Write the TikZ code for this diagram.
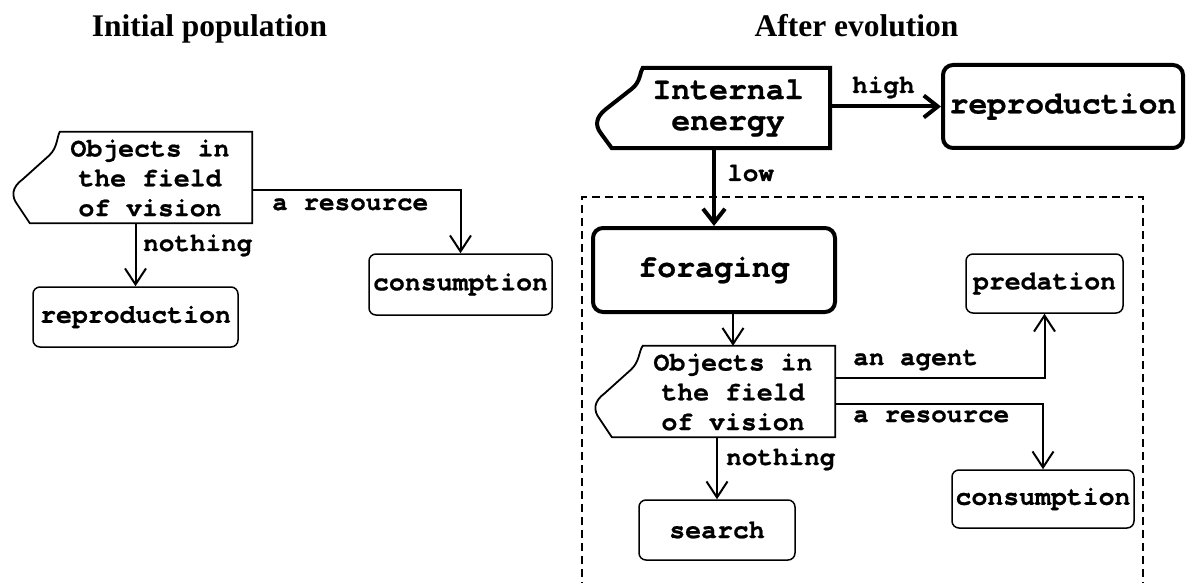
\documentclass[tikz,border=0pt]{standalone}
\usepackage{fontspec}
\setmainfont{Liberation Serif}
\newfontfamily\monof{texgyrecursor}[Extension=.otf,UprightFont=*-regular,BoldFont=*-bold,BoldFeatures={FakeBold=0.8},Ligatures={NoCommon}]
\usetikzlibrary{arrows.meta,calc}
\tikzset{
  every picture/.style={x=1pt,y=-1pt},
  box/.style={draw,rounded corners=7pt,line width=1.5pt,inner sep=0pt,font=\monof\bfseries\fontsize{26.5}{29.5}\selectfont},
  bigbox/.style={draw,rounded corners=10pt,line width=4pt,inner sep=0pt,font=\monof\bfseries\fontsize{31.5}{31}\selectfont},
  frame/.style={draw=none,inner sep=0pt},
  txt/.style={inner sep=0pt,align=center,font=\monof\bfseries\fontsize{26.5}{29.8}\selectfont},
  bigtxt/.style={inner sep=0pt,align=center,font=\monof\bfseries\fontsize{31.5}{31}\selectfont},
  lbl/.style={inner sep=0pt,anchor=base west,font=\monof\bfseries\fontsize{26}{28}\selectfont},
  ttl/.style={inner sep=0pt,anchor=base,font=\bfseries\fontsize{31.5}{34}\selectfont},
  arr/.style={line width=2pt,-{Straight Barb[length=16pt,width=21pt,line width=2pt]}},
  bigarr/.style={line width=4pt,-{Straight Barb[length=14pt,width=22pt,line width=4pt]}},
  shp/.style={line width=1.8pt,line join=miter},
  bigshp/.style={line width=4pt,line join=miter},
}
\begin{document}
\begin{tikzpicture}
\useasboundingbox (0,0) rectangle (1187,583);
% titles
\node[ttl] (t1) at (209.5,37) {Initial population};
\node[ttl] (t2) at (856.5,37) {After evolution};

% ---------- left ----------
\node[frame,minimum width=239pt,minimum height=91pt] (objL) at (132.5,177.5) {};
\draw[shp] ([shift={(47,0)}]objL.north west) -- (objL.north east) -- (objL.south east)
  -- ([shift={(17,0)}]objL.south west) -- ([shift={(5,-18)}]objL.south west)
  .. controls ([shift={(-2,-27)}]objL.south west) and ([shift={(-1,-36)}]objL.south west) .. ([shift={(10,-44)}]objL.south west)
  -- ([shift={(36,24)}]objL.north west)
  .. controls ([shift={(45,16)}]objL.north west) and ([shift={(44,5)}]objL.north west) .. cycle;
\node[txt] (objLt) at (150,178) {Objects in\\the field\\of vision};
\node[box,minimum width=205pt,minimum height=60pt] (reprL) at (135.5,317) {reproduction};
\node[box,minimum width=183pt,minimum height=61pt] (consL) at (460.5,284.5) {consumption};
\coordinate (yL) at (0,190);
\draw[arr] (reprL.north |- objL.south) -- (reprL.north);
\draw[arr] (objL.east |- yL) -| (consL.north);
\node[lbl] (nothL) at (143,251) {nothing};
\node[lbl] (resL) at (272,210) {a resource};

% ---------- right ----------
\draw[dashed,line width=1.5pt,dash pattern=on 8pt off 5pt] (582,590) -- (582,197) -- (1143,197) -- (1143,590);
\node[frame,minimum width=233pt,minimum height=80pt] (ie) at (713.5,108) {};
\draw[bigshp] ([shift={(46,0)}]ie.north west) -- (ie.north east) -- (ie.south east)
  -- ([shift={(15,0)}]ie.south west) -- ([shift={(4,-15)}]ie.south west)
  .. controls ([shift={(-2,-23)}]ie.south west) and ([shift={(-1,-31)}]ie.south west) .. ([shift={(9,-39)}]ie.south west)
  -- ([shift={(35,21)}]ie.north west)
  .. controls ([shift={(44,14)}]ie.north west) and ([shift={(43,4)}]ie.north west) .. cycle;
\node[bigtxt] (iet) at (728,108) {Internal\\energy};
\node[bigbox,minimum width=240pt,minimum height=83pt] (reprR) at (1063,106.5) {reproduction};
\node[bigbox,minimum width=242pt,minimum height=84pt] (forage) at (714,270) {foraging};
\draw[bigarr] (ie.east |- reprR) -- (reprR.west);
\draw[bigarr] (forage.north |- ie.south) -- (forage.north);
\node[lbl] (high) at (852,93) {high};
\node[lbl] (low) at (727,181) {low};

\node[frame,minimum width=240pt,minimum height=91pt] (objR) at (715,391.5) {};
\draw[shp] ([shift={(48,0)}]objR.north west) -- (objR.north east) -- (objR.south east)
  -- ([shift={(17,0)}]objR.south west) -- ([shift={(5,-18)}]objR.south west)
  .. controls ([shift={(-2,-27)}]objR.south west) and ([shift={(-1,-36)}]objR.south west) .. ([shift={(10,-44)}]objR.south west)
  -- ([shift={(36,24)}]objR.north west)
  .. controls ([shift={(45,16)}]objR.north west) and ([shift={(44,5)}]objR.north west) .. cycle;
\node[txt] (objRt) at (733,392) {Objects in\\the field\\of vision};
\node[box,minimum width=156pt,minimum height=60pt] (search) at (717,530) {search};
\node[box,minimum width=157pt,minimum height=59pt] (pred) at (1044.5,283.5) {predation};
\node[box,minimum width=182pt,minimum height=58pt] (consR) at (1043,499) {consumption};
\coordinate (yA) at (0,378);
\coordinate (yB) at (0,404);
\draw[arr] (forage.south -| objRt) -- (objR.north -| objRt);
\draw[arr] (search.north |- objR.south) -- (search.north);
\draw[arr] (objR.east |- yA) -| (pred.south);
\draw[arr] (objR.east |- yB) -| (consR.north);
\node[lbl] (agent) at (853,365) {an agent};
\node[lbl] (resR) at (853,422) {a resource};
\node[lbl] (nothR) at (726,465) {nothing};
\end{tikzpicture}
\end{document}
